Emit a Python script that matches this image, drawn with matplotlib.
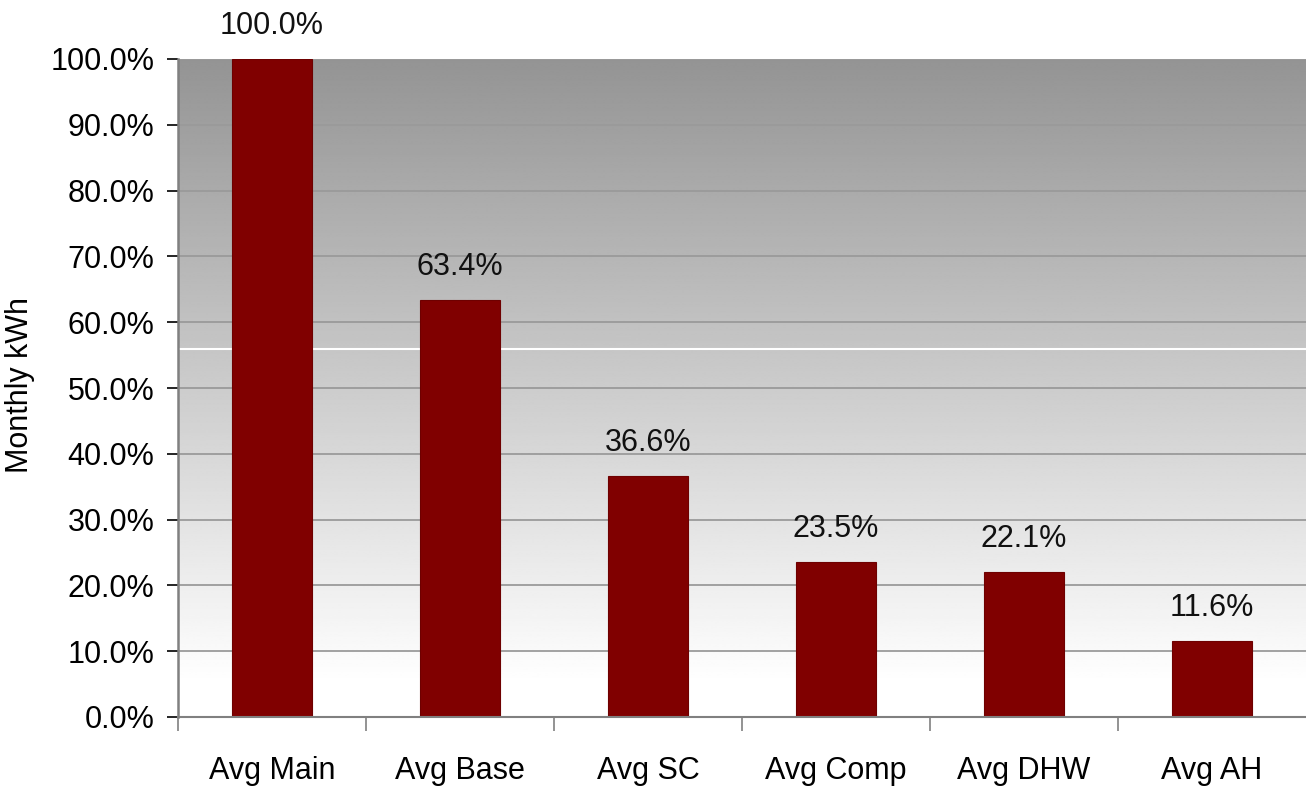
import numpy as np
import matplotlib
matplotlib.use("Agg")
import matplotlib.pyplot as plt
from matplotlib import font_manager

categories = ["Avg Main", "Avg Base", "Avg SC", "Avg Comp", "Avg DHW", "Avg AH"]
shares = [100.0, 63.4, 36.6, 23.5, 22.1, 11.6]
yticks = [0, 10, 20, 30, 40, 50, 60, 70, 80, 90, 100]

names = {f.name for f in font_manager.fontManager.ttflist}
family = ["Liberation Sans Narrow", "DejaVu Sans"] if "Liberation Sans Narrow" in names else ["Liberation Sans", "DejaVu Sans"]
plt.rcParams["font.family"] = family

fig = plt.figure(figsize=(13.06, 7.92), dpi=100)
ax = fig.add_axes([178 / 1306, 1 - 717 / 792, (1306 - 178) / 1306, (717 - 59) / 792])

n = len(categories)
x = np.arange(n)
ax.set_xlim(-0.5, n - 0.5)
ax.set_ylim(0, 100)

# vertical gray-to-white gradient behind the bars
yy = np.linspace(0, 100, 400)
shade = np.clip(1.0 - (yy - 5) / 95 * 0.42, 0.58, 1.0)
grad = np.repeat(shade[:, None], 2, axis=1)
ax.imshow(grad, extent=[-0.5, n - 0.5, 0, 100], origin="lower", aspect="auto",
          cmap="gray", vmin=0, vmax=1, zorder=0, interpolation="bilinear")
ax.axhline(55.9, color="white", lw=1.5, zorder=0.5)

for t in yticks[1:]:
    ax.axhline(t, color="#9a9a9a", lw=1.3, zorder=1)

bars = ax.bar(x, shares, width=0.425, color="#800000", edgecolor="#6e0000", lw=0.8, zorder=2)
for xi, v in zip(x, shares):
    ax.annotate(f"{v:.1f}%", (xi, v), xytext=(0, 13), textcoords="offset points",
                ha="center", va="bottom", fontsize=22, color="#111111")

ax.set_yticks(yticks)
ax.set_yticklabels([f"{t:.1f}%" for t in yticks], fontsize=22)
ax.set_xticks(x)
ax.set_xticklabels(categories, fontsize=22)
ax.set_xticks(np.arange(n) - 0.5, minor=True)
ax.tick_params(axis="x", which="major", length=0, pad=28)
ax.tick_params(axis="x", which="minor", length=10, width=1.2, color="#808080")
ax.tick_params(axis="y", length=8, width=1.2, color="black", pad=9)

for s in ["top", "right"]:
    ax.spines[s].set_visible(False)
ax.spines["left"].set_color("#808080")
ax.spines["left"].set_linewidth(1.8)
ax.spines["bottom"].set_color("#808080")
ax.spines["bottom"].set_linewidth(1.5)

fig.text(20 / 1306, 1 - 385 / 792, "Monthly kWh", rotation=90, ha="center", va="center", fontsize=22)

fig.savefig("out.png", dpi=100)
